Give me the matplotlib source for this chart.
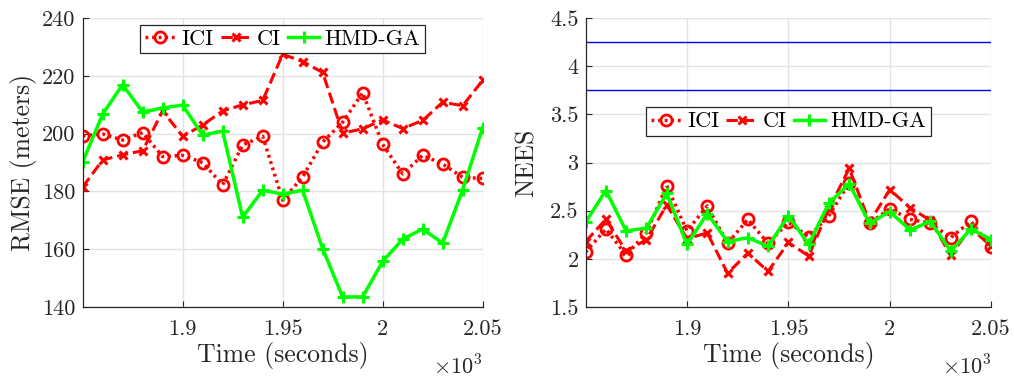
import matplotlib
matplotlib.use('Agg')
import matplotlib.pyplot as plt
from matplotlib.ticker import FuncFormatter

plt.rcParams.update({
    'font.family': 'serif',
    'font.serif': ['cmr10'],
    'mathtext.fontset': 'cm',
    'axes.formatter.use_mathtext': True,
})

# time stamps (seconds)
TIME = [1850, 1860, 1870, 1880, 1890, 1900, 1910, 1920, 1930, 1940, 1950,
        1960, 1970, 1980, 1990, 2000, 2010, 2020, 2030, 2040, 2050]

# RMSE (meters)
RMSE_ICI = [199.3, 199.9, 197.8, 200.4, 192.1, 192.5, 190.0, 182.3, 196.1, 199.1, 177.0,
            185.0, 197.1, 204.0, 214.2, 196.3, 186.1, 192.5, 189.5, 184.9, 184.5]
RMSE_CI = [181.5, 190.9, 192.7, 194.1, 207.9, 199.1, 203.0, 207.9, 210.0, 211.5, 227.5,
           225.0, 221.2, 200.2, 201.7, 204.8, 201.8, 204.6, 210.9, 209.7, 218.5]
RMSE_HMD = [190.2, 206.8, 217.0, 207.5, 208.9, 209.9, 199.5, 200.9, 171.1, 180.4, 179.1,
            180.4, 160.2, 143.5, 143.5, 155.8, 163.5, 167.0, 162.1, 180.6, 202.1]

# NEES
NEES_ICI = [2.07, 2.31, 2.04, 2.27, 2.76, 2.29, 2.55, 2.16, 2.41, 2.16, 2.38,
            2.23, 2.45, 2.79, 2.37, 2.52, 2.41, 2.37, 2.22, 2.39, 2.12]
NEES_CI = [2.18, 2.41, 2.08, 2.20, 2.56, 2.21, 2.27, 1.85, 2.06, 1.87, 2.17,
           2.03, 2.52, 2.94, 2.38, 2.72, 2.53, 2.40, 2.04, 2.32, 2.13]
NEES_HMD = [2.38, 2.71, 2.29, 2.32, 2.68, 2.15, 2.47, 2.18, 2.22, 2.13, 2.45,
            2.15, 2.58, 2.78, 2.37, 2.49, 2.30, 2.39, 2.08, 2.31, 2.20]
NEES_BOUNDS = [3.75, 4.25]

SPINE = '#262626'
GRID = '#e3e3e3'
LW = 2.2


def _style(ax, ylim, yticks):
    ax.set_xlim(1850, 2050)
    ax.set_ylim(*ylim)
    ax.set_xticks([1900, 1950, 2000, 2050])
    ax.set_yticks(yticks)
    ax.xaxis.set_major_formatter(FuncFormatter(lambda v, p: f'{v / 1000:g}'))
    ax.yaxis.set_major_formatter(FuncFormatter(lambda v, p: f'{v:g}'))
    ax.grid(True, color=GRID, linewidth=1.0)
    ax.set_axisbelow(True)
    for s in ('top', 'right'):
        ax.spines[s].set_visible(False)
    for s in ('left', 'bottom'):
        ax.spines[s].set_color(SPINE)
        ax.spines[s].set_linewidth(0.9)
    ax.tick_params(direction='in', length=4, width=0.8, colors=SPINE,
                   labelsize=16, labelcolor='#262626')
    ax.tick_params(axis='x', pad=9)
    ax.tick_params(axis='y', pad=5)
    ax.set_xlabel('Time (seconds)', fontsize=18.5, color='#262626', labelpad=2)
    ax.text(1.0, -0.165, r'$\times10^3$', transform=ax.transAxes, ha='right',
            va='top', fontsize=16, color='#262626')


def _lines(ax, ici, ci, hmd):
    ax.plot(TIME, ici, linestyle=(0, (0.8, 1.1)), color='red', linewidth=LW + 0.3,
            marker='o', markersize=8, markeredgewidth=2, markerfacecolor='none',
            label='ICI')
    ax.plot(TIME, ci, linestyle='--', color='red', linewidth=LW, marker='x',
            markersize=6, markeredgewidth=2.2, label='CI')
    ax.plot(TIME, hmd, linestyle='-', color='#00ff00', linewidth=LW + 0.3,
            marker='+', markersize=8, markeredgewidth=2.2, label='HMD-GA')


def _legend(ax, loc, anchor):
    leg = ax.legend(loc=loc, bbox_to_anchor=anchor, ncol=3, fontsize=16,
                    handlelength=1.4, handletextpad=0.25, columnspacing=0.3,
                    borderpad=0.2, borderaxespad=0.3, fancybox=False,
                    framealpha=1, edgecolor=SPINE)
    leg.get_frame().set_linewidth(0.9)


fig = plt.figure(figsize=(10.14, 3.79), dpi=100)
ax1 = fig.add_axes([0.0815, 0.19, 0.3945, 0.762])
ax2 = fig.add_axes([0.5775, 0.19, 0.400, 0.762])

_lines(ax1, RMSE_ICI, RMSE_CI, RMSE_HMD)
_style(ax1, (140, 240), [140, 160, 180, 200, 220, 240])
ax1.set_ylabel('RMSE (meters)', fontsize=18.5, color='#262626', labelpad=4)
_legend(ax1, 'upper center', (0.5, 1.0))

for b in NEES_BOUNDS:
    ax2.axhline(b, color='blue', linewidth=1.0)
_lines(ax2, NEES_ICI, NEES_CI, NEES_HMD)
_style(ax2, (1.5, 4.5), [1.5, 2, 2.5, 3, 3.5, 4, 4.5])
ax2.set_ylabel('NEES', fontsize=18.5, color='#262626', labelpad=8)
_legend(ax2, 'center', (0.5, 0.642))

fig.savefig('out.png', dpi=100, facecolor='white')
